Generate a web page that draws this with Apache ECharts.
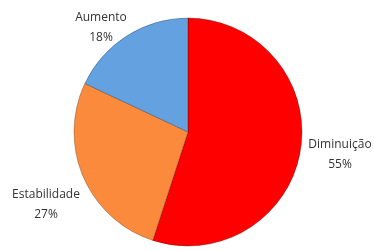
<!DOCTYPE html>
<html>
<head>
<meta charset="utf-8">
<script src="https://cdn.jsdelivr.net/npm/echarts@6/dist/echarts.min.js"></script>
<style>
  html, body { margin: 0; padding: 0; background: #fff; }
  #chart { width: 374px; height: 251px; }
</style>
</head>
<body>
<div id="chart"></div>
<script>
// categories and values (percent)
var names = ["Diminuição", "Estabilidade", "Aumento"];
var values = [55, 27, 18];
var colors = ["#ff0000", "#fb8a3c", "#63a1e0"];

// where each label sits (centre of the text block)
var labelPos = [[340, 155], [46, 205], [101, 28]];

var chart = echarts.init(document.getElementById("chart"));

var data = [];
for (var i = 0; i < names.length; i++) {
  data.push({
    name: names[i],
    value: values[i],
    itemStyle: { color: colors[i] }
  });
}

var option = {
  animation: false,
  series: [
    {
      type: "pie",
      center: [188, 132],
      radius: 114,
      startAngle: 90,
      clockwise: true,
      data: data,
      itemStyle: {
        borderColor: "rgba(0,0,0,0.25)",
        borderWidth: 1
      },
      label: {
        position: "outside",
        alignTo: "none",
        overflow: "none",
        bleedMargin: 0,
        formatter: "{b}\n{c}%",
        fontFamily: "Open Sans",
        fontSize: 12,
        lineHeight: 20,
        color: "#333333",
        align: "center"
      },
      labelLine: { show: false },
      labelLayout: function (params) {
        var p = labelPos[params.dataIndex];
        return { x: p[0], y: p[1], align: "center", verticalAlign: "middle" };
      }
    }
  ]
};
chart.setOption(option);
</script>
</body>
</html>
